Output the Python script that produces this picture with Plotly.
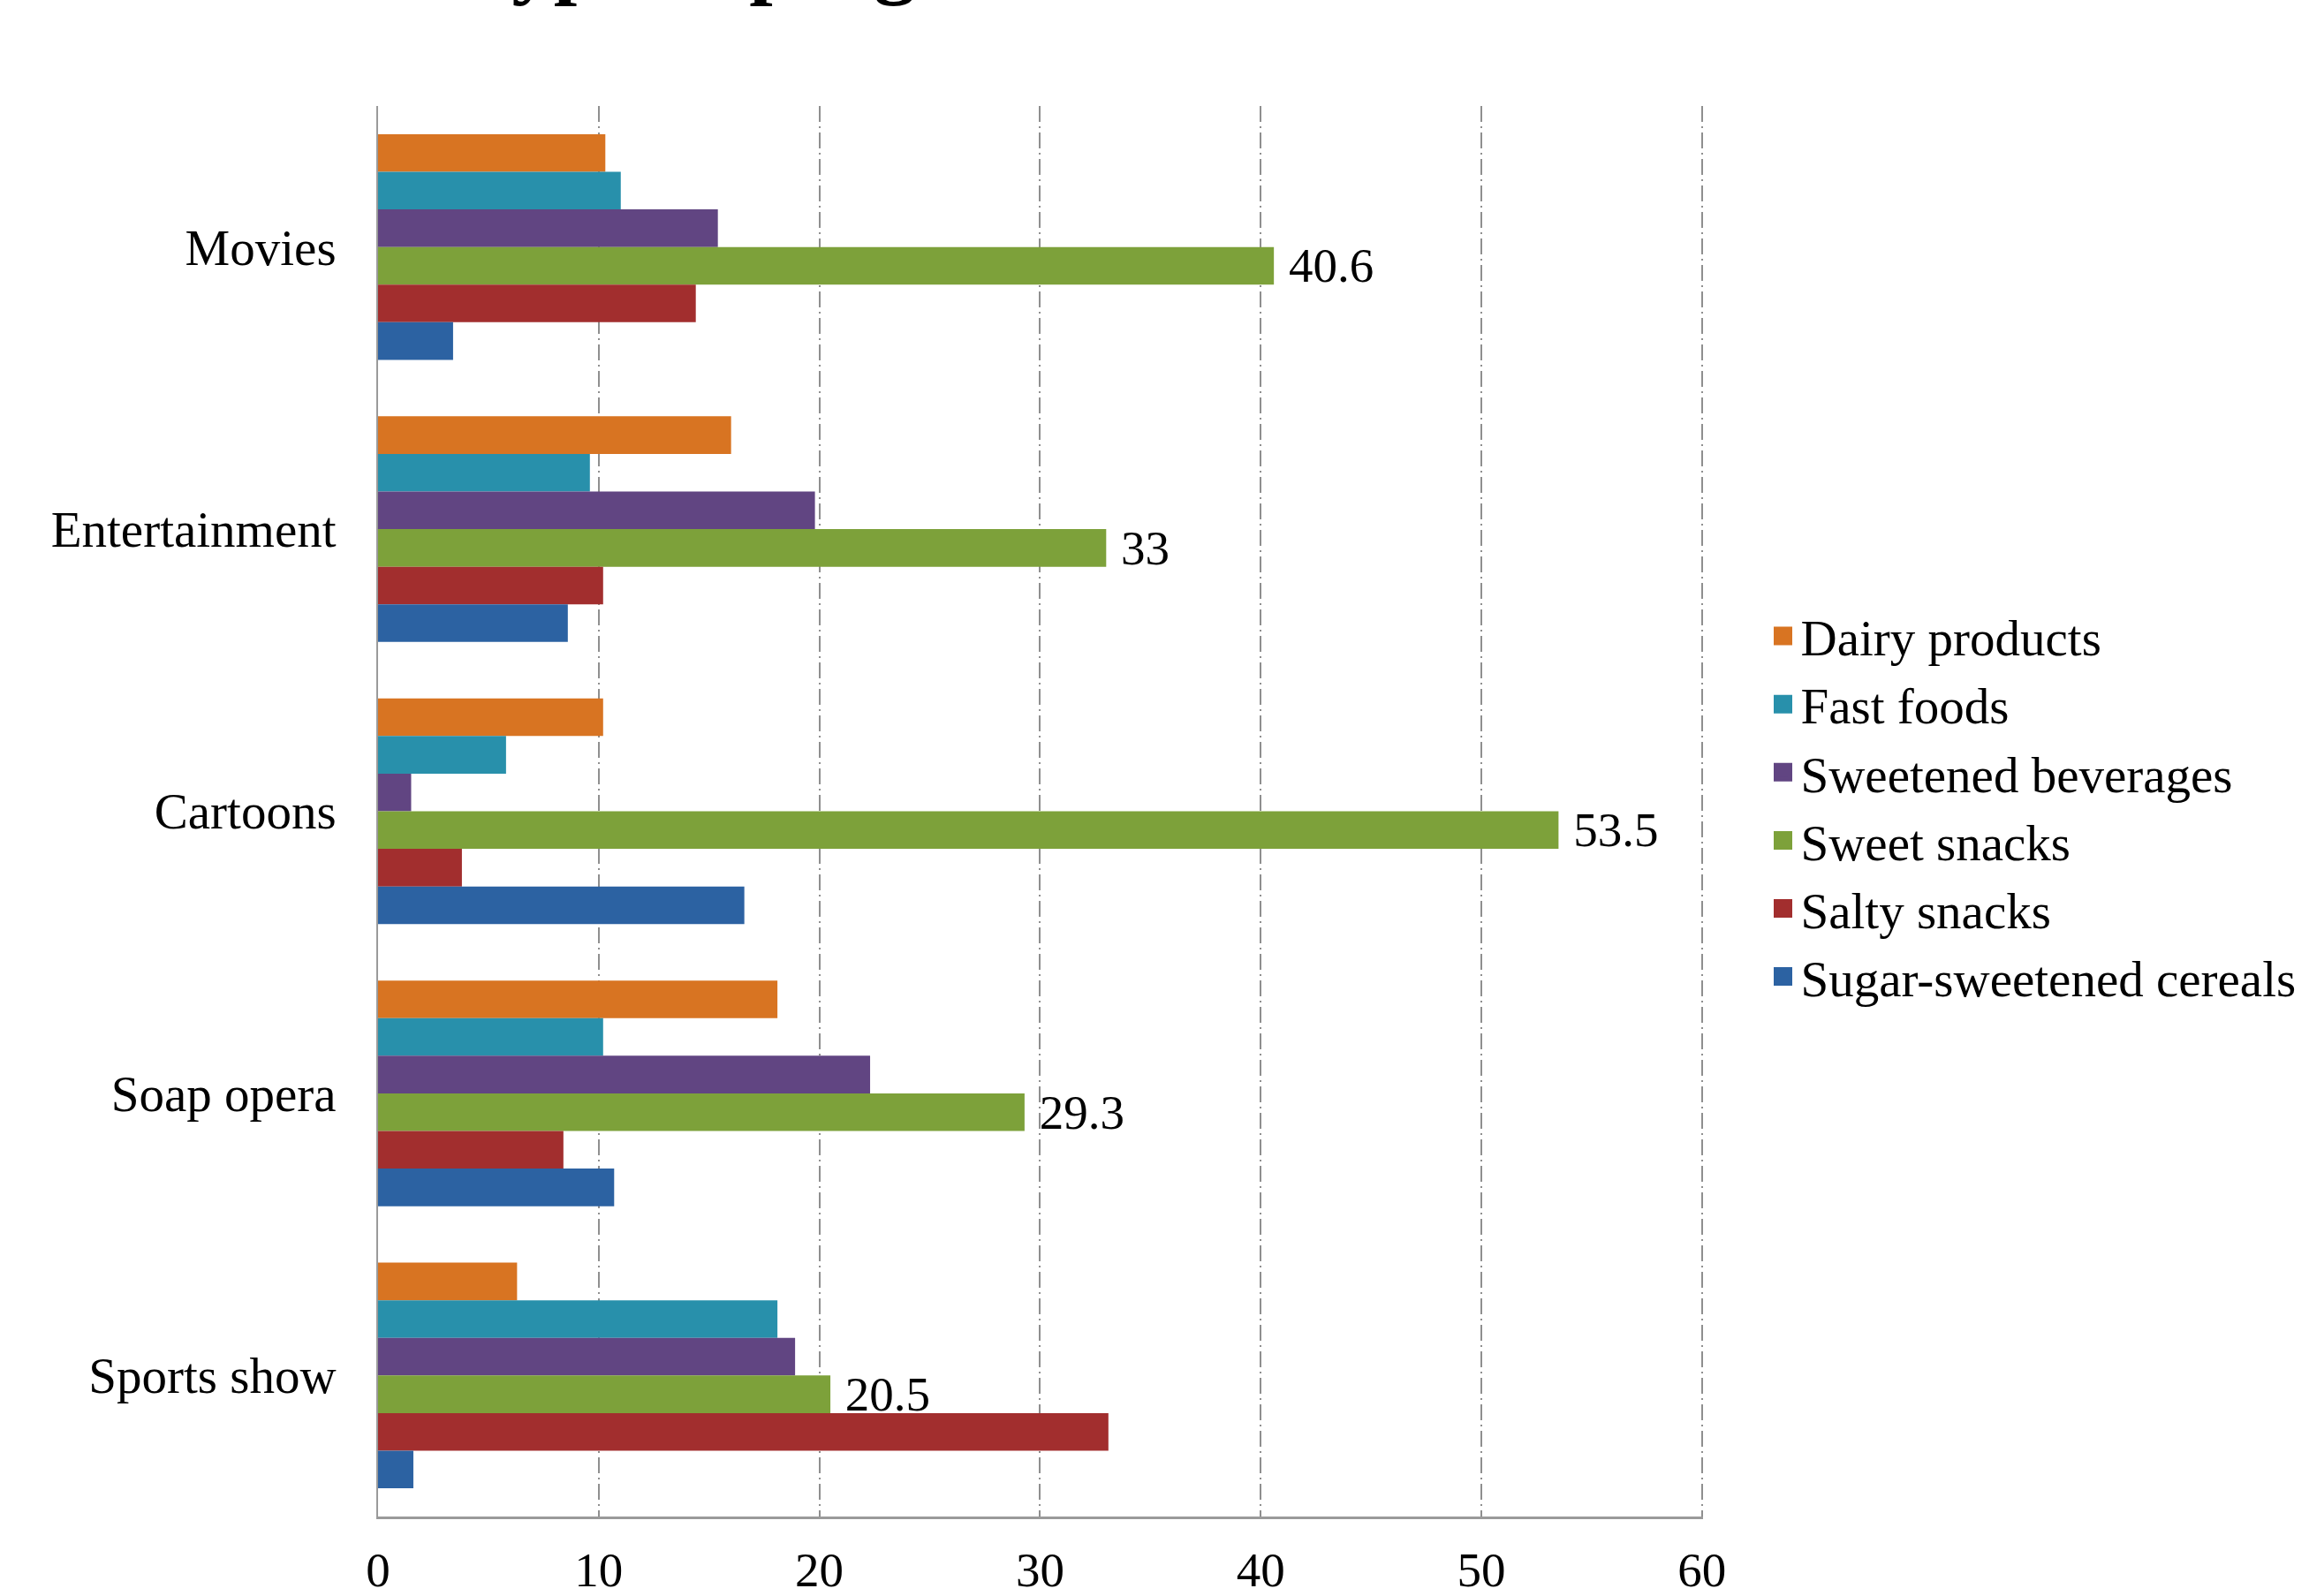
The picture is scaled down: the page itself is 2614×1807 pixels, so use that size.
import plotly.graph_objects as go

categories = ["Movies", "Entertainment", "Cartoons", "Soap opera", "Sports show"]
series_names = ["Dairy products", "Fast foods", "Sweetened beverages",
                "Sweet snacks", "Salty snacks", "Sugar-sweetened cereals"]
dairy = [10.3, 16.0, 10.2, 18.1, 6.3]
fast_foods = [11.0, 9.6, 5.8, 10.2, 18.1]
sweetened_bev = [15.4, 19.8, 1.5, 22.3, 18.9]
sweet_snacks = [40.6, 33, 53.5, 29.3, 20.5]
salty_snacks = [14.4, 10.2, 3.8, 8.4, 33.1]
cereals = [3.4, 8.6, 16.6, 10.7, 1.6]
x_ticks = [0, 10, 20, 30, 40, 50, 60]
title_text = "Food ads and type of program"

values = [dairy, fast_foods, sweetened_bev, sweet_snacks, salty_snacks, cereals]
colors = ["#D87422", "#2890AB", "#614582", "#7DA13A", "#A22E2E", "#2C62A2"]
FONT = "Liberation Serif"

fig = go.Figure()
for name, vals, col in zip(series_names, values, colors):
    labelled = name == "Sweet snacks"
    fig.add_trace(go.Bar(
        y=categories, x=vals, name=name, orientation="h",
        marker=dict(color=col, line=dict(width=0)),
        showlegend=False,
        text=[f"{v:g}" for v in vals] if labelled else None,
        texttemplate=" %{text}" if labelled else None,
        textposition="outside" if labelled else "none",
        textfont=dict(family=FONT, size=55, color="black"),
        constraintext="none", cliponaxis=False,
    ))

# legend entries with larger square swatches
for i, (name, col) in enumerate(zip(series_names, colors)):
    fig.add_trace(go.Scatter(
        x=[None], y=[None], mode="markers", name=name,
        marker=dict(symbol="square", size=16, color=col, line=dict(color=col, width=5)),
        legendgroup=f"g{i}", showlegend=True,
    ))

fig.update_layout(
    width=2614, height=1807,
    margin=dict(l=428, r=686, t=120, b=90, autoexpand=False),
    paper_bgcolor="white", plot_bgcolor="white",
    barmode="group", bargap=0.2, bargroupgap=0,
    font=dict(family=FONT, size=55, color="black"),
    showlegend=True,
    legend=dict(x=1.047, xanchor="left", y=0.5034, yanchor="middle",
                traceorder="normal", tracegroupgap=14,
                font=dict(family=FONT, size=57, color="black"),
                bgcolor="rgba(0,0,0,0)"),
    xaxis=dict(range=[0, 60.05], tickvals=x_ticks, showgrid=True, automargin=False,
               gridcolor="#8f8f8f", gridwidth=2, griddash="18px,5px,2px,5px",
               zeroline=False, showline=True, linecolor="#9a9a9a", linewidth=3,
               ticks="", ticklabelstandoff=10,
               tickfont=dict(family=FONT, size=55, color="black")),
    yaxis=dict(categoryorder="array", categoryarray=categories, automargin=False,
               autorange="reversed", showgrid=False, zeroline=False,
               showline=True, linecolor="#9a9a9a", linewidth=2,
               ticks="", ticklabelstandoff=34,
               tickfont=dict(family=FONT, size=57, color="black")),
    annotations=[dict(text=f"<b>{title_text}</b>", xref="paper", yref="paper",
                      x=(1207 - 428) / 1500, xanchor="right",
                      y=1 + (120 + 45) / 1597, yanchor="middle", showarrow=False,
                      font=dict(family=FONT, size=95, color="black"))],
)

fig.write_html("out.html")
